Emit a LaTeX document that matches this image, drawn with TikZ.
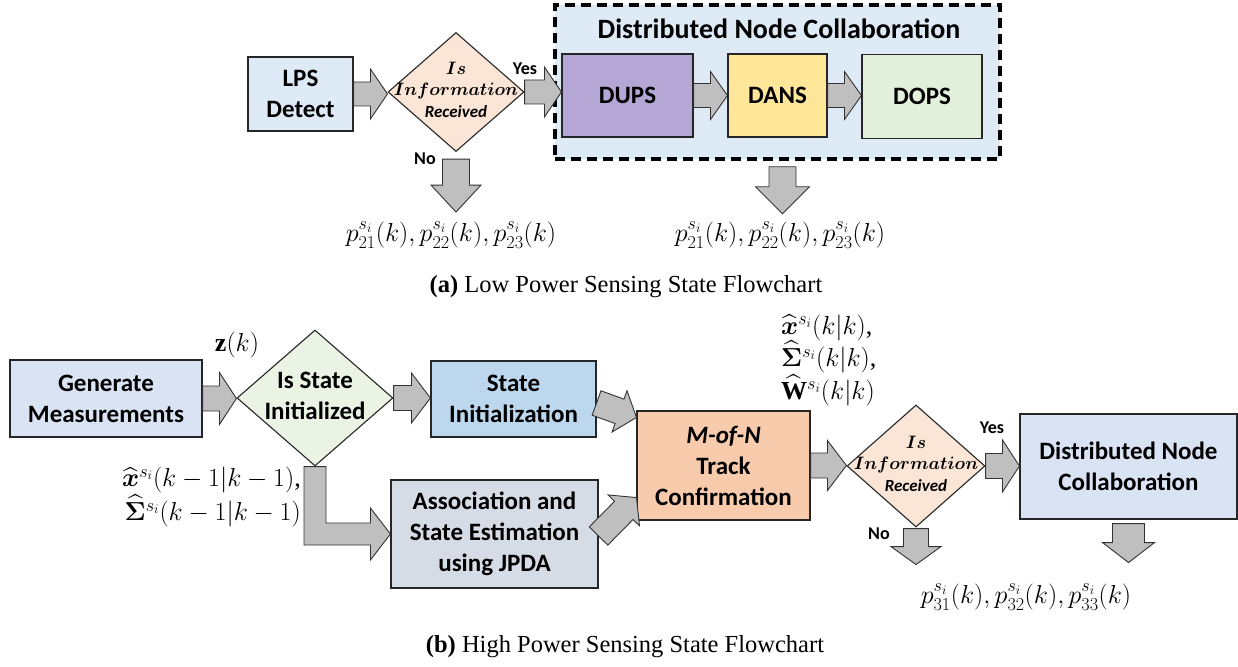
\RequirePackage{fix-cm}
\documentclass[tikz,border=0pt]{standalone}
\usepackage{amsmath,amssymb}
\usepackage{fontspec}
\setmainfont{Liberation Serif}
\setsansfont{Carlito}
\usetikzlibrary{shapes.geometric,calc}

\definecolor{lpsfill}{HTML}{DEEBF7}
\definecolor{askfill}{HTML}{FBE5D6}
\definecolor{dupsfill}{HTML}{B4A7D6}
\definecolor{dansfill}{HTML}{FFE699}
\definecolor{dopsfill}{HTML}{E2EFDA}
\definecolor{genfill}{HTML}{DAE3F3}
\definecolor{initask}{HTML}{EBF3E5}
\definecolor{initfill}{HTML}{BDD7EE}
\definecolor{assocfill}{HTML}{D6DCE5}
\definecolor{mofnfill}{HTML}{F8CBAD}
\definecolor{arrowfill}{HTML}{BFBFBF}

\newcommand{\flowfont}{\sffamily\bfseries\fontsize{25}{31}\selectfont}
\newcommand{\askinfo}{\makebox[0pt]{\begin{tabular}{@{}c@{}}$\boldsymbol{Is}$\\[-1pt]$\boldsymbol{Information}$\\{\sffamily\bfseries\itshape\fontsize{17}{17}\selectfont Received}\end{tabular}}}
\newcommand{\esthat}[1]{\smash[t]{\widehat{#1}}}

\tikzset{
  flowbox/.style = {rectangle, draw=black!85, line width=1.1pt, align=center, inner sep=0pt, font=\flowfont},
  % decision diamonds, text kept narrow so the size comes from minimum width/height
  ask/.style = {diamond, draw=black!85, line width=1.1pt, inner sep=0pt, aspect=1, fill=askfill, font=\fontsize{18}{22}\selectfont},
  yesno/.style = {font=\sffamily\bfseries\fontsize{18}{18}\selectfont, inner sep=0pt},
  mathlabel/.style = {font=\fontsize{26}{34}\selectfont, inner sep=0pt},
  caption/.style = {font=\fontsize{24.5}{25}\selectfont, inner sep=0pt},
  arrowblock/.style = {draw=black!80, fill=arrowfill, line width=0.9pt, line join=miter},
  % block arrow: shaft half width, head half width, head length
  fatarrow/.style n args = {3}{arrowblock, to path={
      -- ($(\tikztostart)!#1!90:(\tikztotarget)$)
      -- ($(\tikztotarget)!#3!(\tikztostart)!#1!-90:(\tikztostart)$)
      -- ($(\tikztotarget)!#3!(\tikztostart)!#2!-90:(\tikztostart)$)
      -- (\tikztotarget)
      -- ($(\tikztotarget)!#3!(\tikztostart)!#2!90:(\tikztostart)$)
      -- ($(\tikztotarget)!#3!(\tikztostart)!#1!90:(\tikztostart)$)
      -- ($(\tikztostart)!#1!-90:(\tikztotarget)$)
      -- cycle}}
}

\begin{document}
\begin{tikzpicture}[x=1pt,y=-1pt]
  \useasboundingbox (0,0) rectangle (1238,666);

  % (a) Low power sensing state
  \node [rectangle, draw=black, line width=3.5pt, dash pattern=on 10pt off 6pt, fill=lpsfill,
         minimum width=445pt, minimum height=154pt] (dncgroup) at (777.5,82) {};
  \node [font=\sffamily\bfseries\fontsize{28}{28}\selectfont, inner sep=0pt] (dnctitle) at (779,29) {Distributed Node Collaboration};
  \node [flowbox, fill=lpsfill, minimum width=105pt, minimum height=74pt] (lps) at (300.5,94) {LPS\\Detect};
  \node [ask, minimum width=136pt, minimum height=119pt] (info1) at (456,92) {\askinfo};
  \node [flowbox, fill=dupsfill, minimum width=131pt, minimum height=83pt] (dups) at (627.5,95.5) {DUPS};
  \node [flowbox, fill=dansfill, minimum width=99pt, minimum height=83pt] (dans) at (777.5,95.5) {DANS};
  \node [flowbox, fill=dopsfill, minimum width=120pt, minimum height=84pt] (dops) at (922,96.5) {DOPS};
  \node [yesno] (yes1) at (525,69) {Yes};
  \node [yesno] (no1) at (425,159) {No};
  \node [mathlabel] (pa1) at (451,235) {$p^{s_i}_{21}(k),p^{s_i}_{22}(k),p^{s_i}_{23}(k)$};
  \node [mathlabel] (pa2) at (780,235) {$p^{s_i}_{21}(k),p^{s_i}_{22}(k),p^{s_i}_{23}(k)$};
  \node [caption] (capa) at (626,287) {\textbf{(a)} Low Power Sensing State Flowchart};

  \draw [fatarrow={12pt}{25pt}{17pt}] (lps.east) to (lps.east -| info1.west);
  \draw [fatarrow={12pt}{25pt}{17pt}] (info1.east) to (info1.east -| dups.west);
  \draw [fatarrow={12pt}{24pt}{17pt}] (dups.east) to (dups.east -| dans.west);
  \draw [fatarrow={12pt}{24pt}{17pt}] (dans.east) to (dans.east -| dops.west);
  \coordinate (no1top) at ([yshift=-7pt]info1.south);
  \coordinate (no1tip) at ([yshift=-53pt]no1top);
  \draw [fatarrow={13.5pt}{25pt}{27pt}] (no1top) to (no1tip);
  \coordinate (grouptop) at ([xshift=5pt,yshift=-6pt]dncgroup.south);
  \coordinate (grouptip) at ([yshift=-47pt]grouptop);
  \draw [fatarrow={13.5pt}{27pt}{27pt}] (grouptop) to (grouptip);

  % (b) High power sensing state
  \node [flowbox, fill=genfill, minimum width=192pt, minimum height=77pt] (gen) at (106,398.5) {Generate\\Measurements};
  \node [ask, fill=initask, font=\flowfont, minimum width=156pt, minimum height=136pt] (isinit) at (315,398)
        {\makebox[0pt]{\begin{tabular}{@{}c@{}}Is State\\Initialized\end{tabular}}};
  \node [flowbox, fill=initfill, minimum width=165pt, minimum height=76pt] (stinit) at (513.5,399) {State\\Initialization};
  \node [flowbox, fill=assocfill, minimum width=207pt, minimum height=108pt] (assoc) at (494.5,534) {Association and\\State Estimation\\using JPDA};
  \node [flowbox, fill=mofnfill, minimum width=173pt, minimum height=109pt] (mofn) at (723.5,465.5) {\textit{M-of-N}\\Track\\Confirmation};
  \node [ask, minimum width=138pt, minimum height=122pt] (info2) at (916,466) {\askinfo};
  \node [flowbox, fill=genfill, minimum width=217pt, minimum height=105pt] (dnc) at (1128.5,466.5) {Distributed Node\\Collaboration};
  \node [mathlabel] (zk) at (237,345) {$\mathbf{z}(k)$};
  \node [mathlabel, align=right, anchor=east] (prior) at (301,497)
        {$\esthat{\boldsymbol{x}}^{s_i}(k-1|k-1)$,\\$\esthat{\boldsymbol{\Sigma}}^{s_i}(k-1|k-1)$};
  \node [mathlabel, font=\fontsize{26}{32.5}\selectfont, align=left, anchor=west] (post) at (781,360)
        {$\esthat{\boldsymbol{x}}^{s_i}(k|k)$,\\$\esthat{\boldsymbol{\Sigma}}^{s_i}(k|k)$,\\$\esthat{\mathbf{W}}^{s_i}(k|k)$};
  \node [yesno] (yes2) at (992,428) {Yes};
  \node [yesno] (no2) at (879,534) {No};
  \node [mathlabel] (pb) at (1026,597) {$p^{s_i}_{31}(k),p^{s_i}_{32}(k),p^{s_i}_{33}(k)$};
  \node [caption] (capb) at (625,647) {\textbf{(b)} High Power Sensing State Flowchart};

  \draw [fatarrow={12.5pt}{26pt}{17pt}] (gen.east) to (gen.east -| isinit.west);
  \draw [fatarrow={12.5pt}{25pt}{19pt}] (isinit.east) to (isinit.east -| stinit.west);
  % L-shaped arrow into the JPDA box
  \draw [arrowblock] let \p1=(isinit.south), \p2=(assoc.west) in
        (\x1-11pt,\y1) -- (\x1-11pt,\y2-11pt) -- (\x2-20pt,\y2-11pt) -- (\x2-20pt,\y2-26pt) -- (\p2)
        -- (\x2-20pt,\y2+26pt) -- (\x2-20pt,\y2+11pt) -- (\x1+11pt,\y2+11pt) -- (\x1+11pt,\y1) -- cycle;
  \coordinate (stinitout) at ([yshift=-4pt]stinit.east);
  \coordinate (assocout) at ([yshift=-2pt]assoc.east);
  \coordinate (mofnin1) at ([yshift=-7pt]mofn.north west);
  \coordinate (mofnin2) at ([yshift=23pt]mofn.south west);
  \draw [fatarrow={13pt}{22pt}{18pt}] (stinitout) to (mofnin1);
  \draw [fatarrow={13pt}{22pt}{18pt}] (assocout) to (mofnin2);
  \draw [fatarrow={12.5pt}{25pt}{19pt}] (mofn.east) to (mofn.east -| info2.west);
  \draw [fatarrow={12.5pt}{26pt}{17pt}] (info2.east) to (info2.east -| dnc.west);
  \coordinate (no2top) at ([yshift=-1pt]info2.south);
  \coordinate (no2tip) at ([yshift=-36pt]no2top);
  \draw [fatarrow={12.5pt}{25pt}{18pt}] (no2top) to (no2tip);
  \coordinate (dnctop) at ([yshift=-4pt]dnc.south);
  \coordinate (dnctip) at ([yshift=-39pt]dnctop);
  \draw [fatarrow={16pt}{26pt}{20pt}] (dnctop) to (dnctip);
\end{tikzpicture}
\end{document}
